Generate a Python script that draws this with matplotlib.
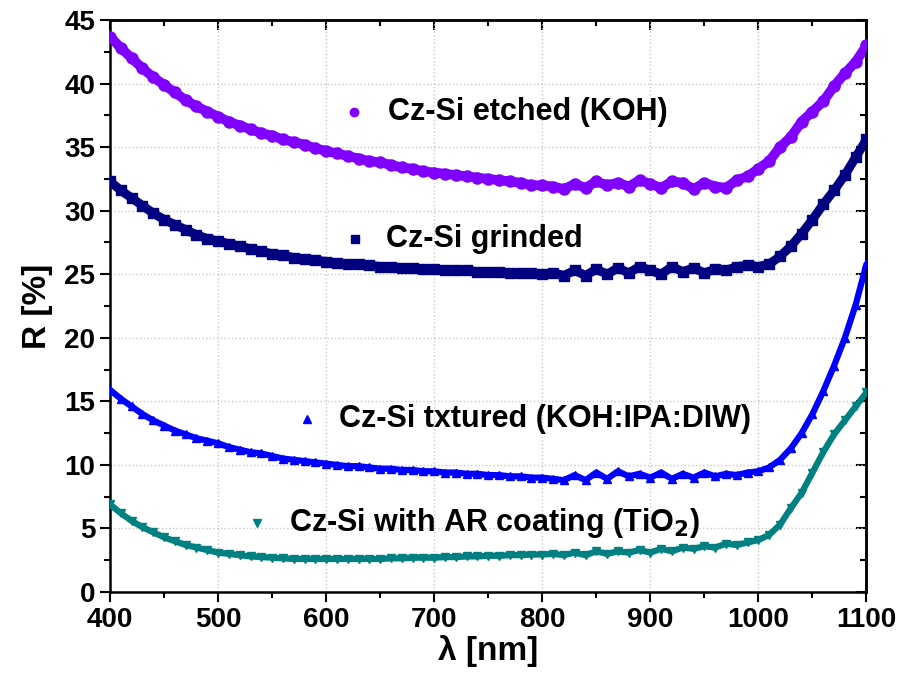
import numpy as np
import matplotlib
matplotlib.use('Agg')
import matplotlib.pyplot as plt
from matplotlib.ticker import MultipleLocator

plt.rcParams['font.family'] = ['Liberation Sans', 'DejaVu Sans']
plt.rcParams['font.weight'] = 'bold'

wavelength = list(range(400, 1101, 10))

r_etched = [43.7, 42.8, 42.0, 41.2, 40.5, 39.9, 39.3, 38.7, 38.2, 37.8,
            37.4, 37.0, 36.7, 36.4, 36.1, 35.9, 35.6, 35.4, 35.2, 34.9,
            34.7, 34.5, 34.3, 34.1, 33.9, 33.8, 33.6, 33.4, 33.3, 33.1,
            33.0, 32.9, 32.8, 32.7, 32.6, 32.5, 32.4, 32.3, 32.2, 32.0,
            32.0, 31.9, 31.7, 32.1, 31.8, 32.3, 32.0, 32.2, 31.9, 32.4,
            32.1, 31.8, 32.3, 32.2, 31.7, 32.2, 31.9, 31.8, 32.4, 32.7,
            33.3, 33.9, 35.0, 35.8, 37.0, 37.8, 38.6, 39.8, 40.8, 41.7,
            43.0]

r_grinded = [32.3, 31.6, 31.0, 30.4, 29.8, 29.3, 28.9, 28.5, 28.1, 27.8,
             27.6, 27.4, 27.2, 27.0, 26.8, 26.6, 26.5, 26.3, 26.2, 26.1,
             26.0, 25.9, 25.8, 25.8, 25.7, 25.6, 25.6, 25.5, 25.5, 25.4,
             25.4, 25.3, 25.3, 25.3, 25.2, 25.2, 25.2, 25.1, 25.1, 25.1,
             25.0, 25.1, 24.9, 25.3, 24.9, 25.4, 25.0, 25.5, 25.1, 25.6,
             25.3, 25.0, 25.6, 25.2, 25.5, 25.1, 25.4, 25.3, 25.6, 25.7,
             25.6, 25.8, 26.4, 27.2, 28.2, 29.3, 30.5, 31.6, 32.8, 34.2,
             35.6]

r_textured = [15.9, 15.2, 14.6, 14.0, 13.5, 13.1, 12.7, 12.4, 12.1, 11.9,
              11.7, 11.4, 11.2, 11.0, 10.9, 10.7, 10.5, 10.4, 10.3, 10.2,
              10.1, 10.0, 9.9, 9.9, 9.8, 9.7, 9.7, 9.6, 9.6, 9.5,
              9.5, 9.4, 9.4, 9.3, 9.3, 9.2, 9.2, 9.1, 9.1, 9.0,
              9.0, 8.9, 8.8, 9.2, 8.8, 9.4, 8.9, 9.5, 9.1, 9.3,
              9.0, 9.4, 8.9, 9.3, 9.0, 9.4, 9.1, 9.3, 9.2, 9.4,
              9.5, 9.8, 10.4, 11.3, 12.5, 14.0, 15.8, 17.8, 20.0, 22.6,
              25.8]

r_coated = [6.9, 6.2, 5.6, 5.1, 4.7, 4.3, 4.0, 3.7, 3.5, 3.3,
            3.1, 3.0, 2.9, 2.8, 2.75, 2.7, 2.65, 2.6, 2.6, 2.6,
            2.6, 2.6, 2.6, 2.6, 2.6, 2.6, 2.65, 2.65, 2.7, 2.7,
            2.7, 2.75, 2.75, 2.8, 2.8, 2.85, 2.85, 2.9, 2.9, 2.95,
            2.95, 3.0, 2.9, 3.1, 2.9, 3.2, 3.0, 3.2, 3.1, 3.3,
            3.1, 3.4, 3.2, 3.5, 3.4, 3.6, 3.5, 3.8, 3.7, 3.9,
            4.1, 4.5, 5.3, 6.6, 7.8, 9.4, 11.0, 12.4, 13.5, 14.6,
            15.7]

labels = ['Cz-Si etched (KOH)', 'Cz-Si grinded',
          'Cz-Si txtured (KOH:IPA:DIW)', 'Cz-Si with AR coating (TiO$_2$)']
# position of the in-plot labels (marker x, text x, y) in data units
label_marker_x = [626, 627, 582, 536]
label_text_x = [657, 655, 612, 566]
label_y = [37.8, 27.8, 13.6, 5.4]

series = [r_etched, r_grinded, r_textured, r_coated]
colors = ['#8000ff', '#000080', '#0000ff', '#008080']
markers = ['o', 's', '^', 'v']
line_w = [7, 6.5, 4.5, 4.5]
mk_size = [8, 7, 6, 6]

fig = plt.figure(figsize=(9.04, 6.78), dpi=100)
ax = fig.add_axes([0.1217, 0.1268, 0.8368, 0.8437])

for y, c, m, lw, ms in zip(series, colors, markers, line_w, mk_size):
    ax.plot(wavelength, y, color=c, lw=lw, marker=m, ms=ms, mec=c, mfc=c,
            solid_capstyle='round', zorder=3)

for i in range(4):
    ax.plot(label_marker_x[i], label_y[i], marker=markers[i], ms=6,
            color=colors[i], ls='none', zorder=4)
    ax.text(label_text_x[i], label_y[i], labels[i], fontsize=22,
            fontweight='bold', va='center', ha='left', zorder=5)

ax.set_xlim(400, 1100)
ax.set_ylim(0, 45)
ax.xaxis.set_major_locator(MultipleLocator(100))
ax.xaxis.set_minor_locator(MultipleLocator(50))
ax.yaxis.set_major_locator(MultipleLocator(5))
ax.yaxis.set_minor_locator(MultipleLocator(2.5))
ax.grid(True, which='major', color='#c8c8c8', ls=':', lw=1.0, zorder=0)
ax.set_axisbelow(True)

ax.tick_params(which='major', direction='out', length=7, width=1.5,
               labelsize=20)
ax.tick_params(which='minor', direction='out', length=4, width=1.5)
for s in ax.spines.values():
    s.set_linewidth(1.8)

top = ax.secondary_xaxis('top')
top.xaxis.set_major_locator(MultipleLocator(100))
top.xaxis.set_minor_locator(MultipleLocator(50))
top.tick_params(which='both', direction='in', labeltop=False, width=1.5)
top.tick_params(which='major', length=7)
top.tick_params(which='minor', length=4)
right = ax.secondary_yaxis('right')
right.yaxis.set_major_locator(MultipleLocator(5))
right.yaxis.set_minor_locator(MultipleLocator(2.5))
right.tick_params(which='both', direction='in', labelright=False, width=1.5)
right.tick_params(which='major', length=7)
right.tick_params(which='minor', length=4)
for sa in (top, right):
    for s in sa.spines.values():
        s.set_linewidth(1.8)

for lab in ax.get_xticklabels() + ax.get_yticklabels():
    lab.set_fontweight('bold')

ax.set_xlabel('λ [nm]', fontsize=24, fontweight='bold', labelpad=2)
ax.set_ylabel('R [%]', fontsize=24, fontweight='bold', labelpad=8)

fig.savefig('out.png', dpi=100)
